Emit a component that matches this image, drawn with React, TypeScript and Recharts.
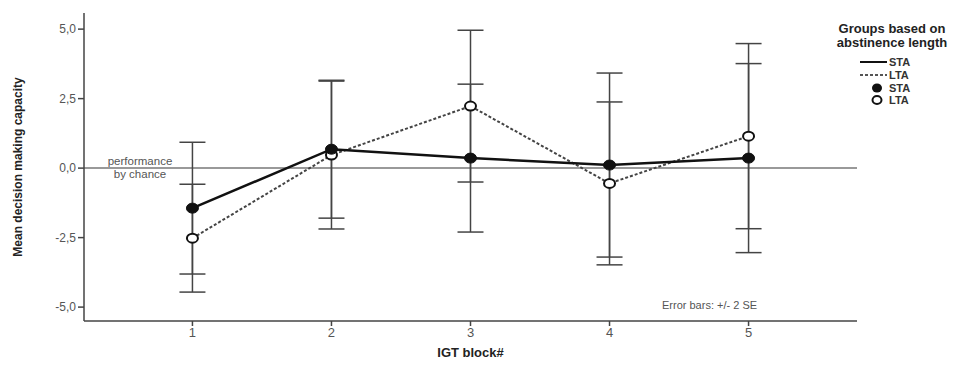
import React from 'react';
import { LineChart, Line, XAxis, YAxis, ErrorBar, ReferenceLine, Label } from 'recharts';

const blocks = [1, 2, 3, 4, 5];
const staMean = [-1.44, 0.68, 0.36, 0.11, 0.36];
const staErr = [2.37, 2.48, 2.66, 3.31, 3.4];
const ltaMean = [-2.52, 0.47, 2.23, -0.55, 1.15];
const ltaErr = [1.94, 2.66, 2.73, 2.93, 3.33];
const yTicks = [-5, -2.5, 0, 2.5, 5];

const data = blocks.map((b, i) => ({
  block: b,
  sta: staMean[i],
  staErr: staErr[i],
  lta: ltaMean[i],
  ltaErr: ltaErr[i],
}));

const FONT = '"Liberation Sans", Arial, sans-serif';
const fmt = (v: number) => v.toFixed(1).replace('.', ',');

const FilledDot = (props: any) => {
  const { cx, cy } = props;
  return <ellipse cx={cx} cy={cy} rx={6} ry={5} fill="#111" stroke="#111" />;
};

const OpenDot = (props: any) => {
  const { cx, cy } = props;
  return <ellipse cx={cx} cy={cy} rx={5.5} ry={4.5} fill="#fff" stroke="#111" strokeWidth={2} />;
};

const chanceLabel = (props: any) => {
  const { viewBox } = props;
  const x = viewBox.x + 56;
  const y = viewBox.y;
  return (
    <g fontFamily={FONT} fontSize={11.5} textAnchor="middle">
      <text x={x} y={y - 3} fill="#555">performance</text>
      <text x={x} y={y + 10} fill="#555">by chance</text>
    </g>
  );
};

function LegendBox() {
  return (
    <div style={{ position: 'absolute', left: 806, top: 22, width: 172, fontFamily: FONT, color: '#222' }}>
      <div style={{ fontWeight: 'bold', fontSize: 13, lineHeight: '14px', textAlign: 'center' }}>
        Groups based on
        <br />
        abstinence length
      </div>
      <svg width={172} height={60} style={{ display: 'block' }}>
        <g fontFamily={FONT} fontSize={11} fontWeight="bold" fill="#333">
          <line x1={54} x2={81} y1={12} y2={12} stroke="#111" strokeWidth={2} />
          <text x={83} y={16}>STA</text>
          <line x1={54} x2={81} y1={25} y2={25} stroke="#555" strokeWidth={2} strokeDasharray="3 2" />
          <text x={83} y={29}>LTA</text>
          <ellipse cx={71} cy={38} rx={5} ry={4.5} fill="#111" />
          <text x={83} y={42}>STA</text>
          <ellipse cx={71} cy={50} rx={4.5} ry={4} fill="#fff" stroke="#111" strokeWidth={2} />
          <text x={83} y={54}>LTA</text>
        </g>
      </svg>
    </div>
  );
}

export default function App() {
  return (
    <div style={{ position: 'absolute', left: 0, top: 0, width: 978, height: 370, background: '#fff' }}>
      <LineChart
        width={978}
        height={370}
        data={data}
        margin={{ top: 13, right: 121, bottom: 19, left: 0 }}
      >
        <XAxis
          dataKey="block"
          type="number"
          domain={[0.22, 5.78]}
          ticks={blocks}
          allowDataOverflow
          height={30}
          stroke="#444"
          strokeWidth={1.5}
          tickSize={5}
          tick={{ fill: '#555', fontSize: 13, fontFamily: FONT }}
        >
          <Label
            value="IGT block#"
            position="bottom"
            offset={-3}
            style={{ fontFamily: FONT, fontWeight: 'bold', fontSize: 13, fill: '#222' }}
          />
        </XAxis>
        <YAxis
          type="number"
          domain={[-5.5, 5.58]}
          ticks={yTicks}
          allowDataOverflow
          width={84}
          stroke="#444"
          strokeWidth={1.5}
          tickSize={6}
          tickMargin={2}
          tickFormatter={fmt}
          tick={{ fill: '#555', fontSize: 12, fontFamily: FONT }}
        >
          <Label
            value="Mean decision making capacity"
            angle={-90}
            position="insideLeft"
            offset={18}
            style={{ fontFamily: FONT, fontWeight: 'bold', fontSize: 12, fill: '#222', textAnchor: 'middle' }}
          />
        </YAxis>
        <ReferenceLine y={0} stroke="#777" strokeWidth={1.5} label={chanceLabel} />
        <Line
          dataKey="lta"
          stroke="#444"
          strokeWidth={2}
          strokeDasharray="3 2"
          dot={<OpenDot />}
          isAnimationActive={false}
        >
          <ErrorBar dataKey="ltaErr" direction="y" width={13} stroke="#444" strokeWidth={1.5} />
        </Line>
        <Line
          dataKey="sta"
          stroke="#111"
          strokeWidth={2.5}
          dot={<FilledDot />}
          isAnimationActive={false}
        >
          <ErrorBar dataKey="staErr" direction="y" width={13} stroke="#444" strokeWidth={1.5} />
        </Line>
      </LineChart>
      <div
        style={{ position: 'absolute', left: 662, top: 299, fontFamily: FONT, fontSize: 11, color: '#555' }}
      >
        Error bars: +/- 2 SE
      </div>
      <LegendBox />
    </div>
  );
}
